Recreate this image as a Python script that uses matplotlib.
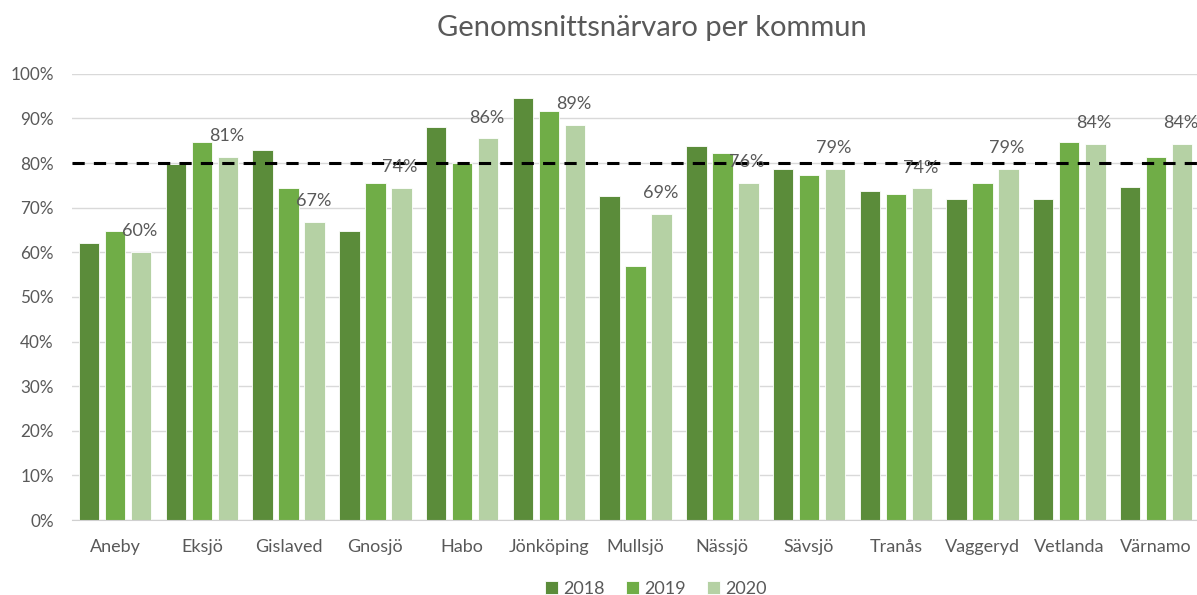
import numpy as np
import matplotlib
matplotlib.use("Agg")
import matplotlib.pyplot as plt
from matplotlib.ticker import PercentFormatter

plt.rcParams['font.family'] = ['Lato', 'DejaVu Sans']

# data
kommuner = ['Aneby', 'Eksjö', 'Gislaved', 'Gnosjö', 'Habo', 'Jönköping', 'Mullsjö',
            'Nässjö', 'Sävsjö', 'Tranås', 'Vaggeryd', 'Vetlanda', 'Värnamo']
years = ['2018', '2019', '2020']
v2018 = [0.62, 0.797, 0.83, 0.648, 0.88, 0.946, 0.726, 0.839, 0.787, 0.738, 0.719, 0.719, 0.747]
v2019 = [0.647, 0.847, 0.743, 0.756, 0.801, 0.917, 0.570, 0.823, 0.774, 0.731, 0.756, 0.847, 0.814]
v2020 = [0.60, 0.813, 0.668, 0.744, 0.855, 0.886, 0.686, 0.756, 0.786, 0.743, 0.786, 0.843, 0.843]
target = 0.80

colors = ['#5b8c3a', '#70ad47', '#b5d1a4']
grey = '#595959'

fig = plt.figure(figsize=(11.97, 5.95), dpi=100)
ax = fig.add_axes([0.060, 0.126, 0.942, 0.750])

x = np.arange(len(kommuner))
step = 0.30
width = 0.235
for k, (vals, col, yr) in enumerate(zip([v2018, v2019, v2020], colors, years)):
    bars = ax.bar(x + (k - 1) * step, vals, width, color=col, label=yr,
                  edgecolor='white', linewidth=0.6, zorder=2)
    if yr == '2020':
        for b, v in zip(bars, vals):
            ax.annotate(f'{round(v * 100):.0f}%', (b.get_x() + b.get_width() / 2, v),
                        xytext=(-1, 15), textcoords='offset points',
                        ha='center', va='center', fontsize=13, color=grey, zorder=4)

ax.axhline(target, color='black', linestyle=(0, (4, 3)), linewidth=2.2, zorder=3, clip_on=False)

ax.set_xlim(-0.5, len(kommuner) - 0.5)
ax.set_ylim(0, 1.0)
ax.set_yticks(np.arange(0, 1.01, 0.1))
ax.yaxis.set_major_formatter(PercentFormatter(1.0, decimals=0))
ax.set_xticks(x)
ax.set_xticklabels(kommuner)
ax.tick_params(axis='x', length=0, labelsize=13, labelcolor=grey, pad=14)
ax.tick_params(axis='y', length=0, labelsize=12.3, labelcolor=grey, pad=13)
ax.grid(axis='y', color='#d9d9d9', linewidth=1, zorder=0)
ax.set_axisbelow(True)
for s in ['top', 'right', 'left']:
    ax.spines[s].set_visible(False)
ax.spines['bottom'].set_color('#d0d0d0')

fig.suptitle('Genomsnittsnärvaro per kommun', x=0.545, y=0.975, fontsize=21, color=grey)

fig.legend(loc='center', bbox_to_anchor=(0.548, 0.01), ncol=3, frameon=False,
           fontsize=13, labelcolor=grey, handlelength=0.7, handleheight=0.7,
           handletextpad=0.3, columnspacing=1.2)

fig.savefig('out.png', dpi=100)
